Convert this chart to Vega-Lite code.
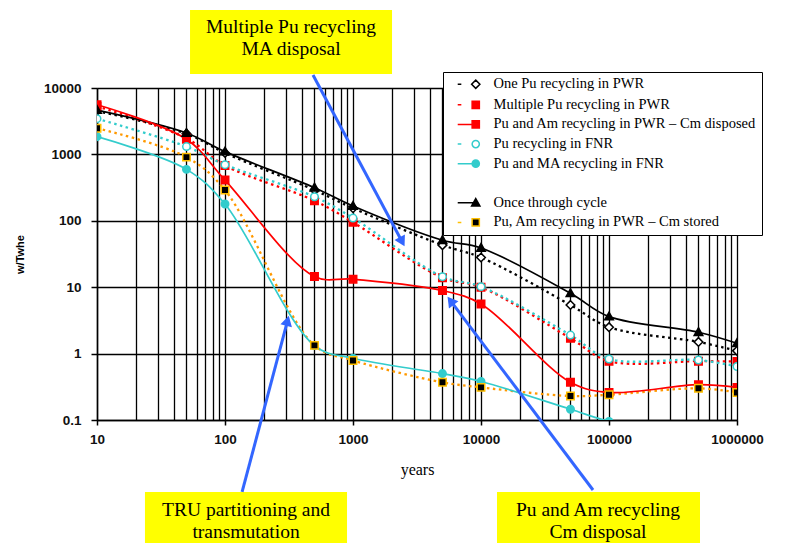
{
  "$schema": "https://vega.github.io/schema/vega-lite/v6.json",
  "width": 640,
  "height": 332,
  "autosize": {"type": "none"},
  "padding": {"left": 97, "top": 88, "right": 55, "bottom": 123},
  "background": "white",
  "config": {
    "view": {"stroke": null},
    "axis": {
      "domainColor": "#000",
      "domainWidth": 1.5,
      "tickColor": "#000",
      "tickWidth": 1.5,
      "gridColor": "#000",
      "gridWidth": 1.3,
      "gridOpacity": 1,
      "labelFont": "Liberation Sans",
      "labelFontWeight": "bold",
      "labelFontSize": 13.5,
      "labelColor": "#111",
      "labelFlush": false,
      "labelOverlap": false
    }
  },
  "datasets": {
    "series": [
      {"series": "Once through cycle", "years": 10, "w_twhe": 4650},
      {"series": "Once through cycle", "years": 50, "w_twhe": 2100},
      {"series": "Once through cycle", "years": 100, "w_twhe": 1100},
      {"series": "Once through cycle", "years": 500, "w_twhe": 315},
      {"series": "Once through cycle", "years": 1000, "w_twhe": 167},
      {"series": "Once through cycle", "years": 5000, "w_twhe": 51},
      {"series": "Once through cycle", "years": 10000, "w_twhe": 39},
      {"series": "Once through cycle", "years": 50000, "w_twhe": 8.1},
      {"series": "Once through cycle", "years": 100000, "w_twhe": 3.6},
      {"series": "Once through cycle", "years": 500000, "w_twhe": 2.1},
      {"series": "Once through cycle", "years": 1000000, "w_twhe": 1.43},
      {"series": "One Pu recycling in PWR", "years": 10, "w_twhe": 4500},
      {"series": "One Pu recycling in PWR", "years": 50, "w_twhe": 2050},
      {"series": "One Pu recycling in PWR", "years": 100, "w_twhe": 1050},
      {"series": "One Pu recycling in PWR", "years": 500, "w_twhe": 290},
      {"series": "One Pu recycling in PWR", "years": 1000, "w_twhe": 155},
      {"series": "One Pu recycling in PWR", "years": 5000, "w_twhe": 43},
      {"series": "One Pu recycling in PWR", "years": 10000, "w_twhe": 28},
      {"series": "One Pu recycling in PWR", "years": 50000, "w_twhe": 5.4},
      {"series": "One Pu recycling in PWR", "years": 100000, "w_twhe": 2.5},
      {"series": "One Pu recycling in PWR", "years": 500000, "w_twhe": 1.5},
      {"series": "One Pu recycling in PWR", "years": 1000000, "w_twhe": 1.1},
      {"series": "Multiple Pu recycling in PWR", "years": 10, "w_twhe": 5300},
      {"series": "Multiple Pu recycling in PWR", "years": 50, "w_twhe": 1750},
      {"series": "Multiple Pu recycling in PWR", "years": 100, "w_twhe": 680},
      {"series": "Multiple Pu recycling in PWR", "years": 500, "w_twhe": 201},
      {"series": "Multiple Pu recycling in PWR", "years": 1000, "w_twhe": 95},
      {"series": "Multiple Pu recycling in PWR", "years": 5000, "w_twhe": 13.9},
      {"series": "Multiple Pu recycling in PWR", "years": 10000, "w_twhe": 10},
      {"series": "Multiple Pu recycling in PWR", "years": 50000, "w_twhe": 1.7},
      {"series": "Multiple Pu recycling in PWR", "years": 100000, "w_twhe": 0.77},
      {"series": "Multiple Pu recycling in PWR", "years": 500000, "w_twhe": 0.77},
      {"series": "Multiple Pu recycling in PWR", "years": 1000000, "w_twhe": 0.76},
      {"series": "Pu and Am recycling in PWR – Cm disposed", "years": 10, "w_twhe": 5600},
      {"series": "Pu and Am recycling in PWR – Cm disposed", "years": 50, "w_twhe": 1690},
      {"series": "Pu and Am recycling in PWR – Cm disposed", "years": 100, "w_twhe": 410},
      {"series": "Pu and Am recycling in PWR – Cm disposed", "years": 500, "w_twhe": 14.5},
      {"series": "Pu and Am recycling in PWR – Cm disposed", "years": 1000, "w_twhe": 13.2},
      {"series": "Pu and Am recycling in PWR – Cm disposed", "years": 5000, "w_twhe": 8.9},
      {"series": "Pu and Am recycling in PWR – Cm disposed", "years": 10000, "w_twhe": 5.6},
      {"series": "Pu and Am recycling in PWR – Cm disposed", "years": 50000, "w_twhe": 0.37},
      {"series": "Pu and Am recycling in PWR – Cm disposed", "years": 100000, "w_twhe": 0.26},
      {"series": "Pu and Am recycling in PWR – Cm disposed", "years": 500000, "w_twhe": 0.34},
      {"series": "Pu and Am recycling in PWR – Cm disposed", "years": 1000000, "w_twhe": 0.31},
      {"series": "Pu recycling in FNR", "years": 10, "w_twhe": 3450},
      {"series": "Pu recycling in FNR", "years": 50, "w_twhe": 1310},
      {"series": "Pu recycling in FNR", "years": 100, "w_twhe": 700},
      {"series": "Pu recycling in FNR", "years": 500, "w_twhe": 230},
      {"series": "Pu recycling in FNR", "years": 1000, "w_twhe": 110},
      {"series": "Pu recycling in FNR", "years": 5000, "w_twhe": 14.4},
      {"series": "Pu recycling in FNR", "years": 10000, "w_twhe": 10.2},
      {"series": "Pu recycling in FNR", "years": 50000, "w_twhe": 1.9},
      {"series": "Pu recycling in FNR", "years": 100000, "w_twhe": 0.83},
      {"series": "Pu recycling in FNR", "years": 500000, "w_twhe": 0.8},
      {"series": "Pu recycling in FNR", "years": 1000000, "w_twhe": 0.64},
      {"series": "Pu and MA recycling in FNR", "years": 10, "w_twhe": 1850},
      {"series": "Pu and MA recycling in FNR", "years": 50, "w_twhe": 595},
      {"series": "Pu and MA recycling in FNR", "years": 100, "w_twhe": 179},
      {"series": "Pu and MA recycling in FNR", "years": 500, "w_twhe": 1.32},
      {"series": "Pu and MA recycling in FNR", "years": 1000, "w_twhe": 0.85},
      {"series": "Pu and MA recycling in FNR", "years": 5000, "w_twhe": 0.5},
      {"series": "Pu and MA recycling in FNR", "years": 10000, "w_twhe": 0.38},
      {"series": "Pu and MA recycling in FNR", "years": 50000, "w_twhe": 0.145},
      {"series": "Pu and MA recycling in FNR", "years": 100000, "w_twhe": 0.095},
      {"series": "Pu and MA recycling in FNR", "years": 500000, "w_twhe": 0.05},
      {"series": "Pu and MA recycling in FNR", "years": 1000000, "w_twhe": 0.04},
      {"series": "Pu, Am recycling in PWR – Cm stored", "years": 10, "w_twhe": 2480},
      {"series": "Pu, Am recycling in PWR – Cm stored", "years": 50, "w_twhe": 910},
      {"series": "Pu, Am recycling in PWR – Cm stored", "years": 100, "w_twhe": 290},
      {"series": "Pu, Am recycling in PWR – Cm stored", "years": 500, "w_twhe": 1.33},
      {"series": "Pu, Am recycling in PWR – Cm stored", "years": 1000, "w_twhe": 0.79},
      {"series": "Pu, Am recycling in PWR – Cm stored", "years": 5000, "w_twhe": 0.37},
      {"series": "Pu, Am recycling in PWR – Cm stored", "years": 10000, "w_twhe": 0.31},
      {"series": "Pu, Am recycling in PWR – Cm stored", "years": 50000, "w_twhe": 0.23},
      {"series": "Pu, Am recycling in PWR – Cm stored", "years": 100000, "w_twhe": 0.24},
      {"series": "Pu, Am recycling in PWR – Cm stored", "years": 500000, "w_twhe": 0.3},
      {"series": "Pu, Am recycling in PWR – Cm stored", "years": 1000000, "w_twhe": 0.26}
    ],
    "boxes": [
      {"box": "b1", "years": 53.3, "years_end": 2018, "w_twhe": 16250, "w_twhe_end": 149600},
      {"box": "b2", "years": 23.7, "years_end": 898, "w_twhe": 0.0011, "w_twhe_end": 0.00824},
      {"box": "b3", "years": 13335, "years_end": 514000, "w_twhe": 0.0011, "w_twhe_end": 0.00824}
    ],
    "notes": [
      {"text": "Multiple Pu recycling", "years": 328, "w_twhe": 83000},
      {"text": "MA disposal", "years": 328, "w_twhe": 38600},
      {"text": "TRU partitioning and", "years": 146, "w_twhe": 0.00441},
      {"text": "transmutation", "years": 146, "w_twhe": 0.00206},
      {"text": "Pu and Am recycling", "years": 82000, "w_twhe": 0.00441},
      {"text": "Cm disposal", "years": 82000, "w_twhe": 0.00206}
    ],
    "arrows": [
      {"id": "a1", "years": 487, "w_twhe": 15700, "years_end": 2420, "w_twhe_end": 48.4},
      {"id": "a2", "years": 136, "w_twhe": 0.00824, "years_end": 307.8, "w_twhe_end": 3.12},
      {"id": "a3", "years": 75000, "w_twhe": 0.00883, "years_end": 5790, "w_twhe_end": 6.24}
    ],
    "heads": [
      {"id": "a1", "years": 2420, "w_twhe": 48.4},
      {"id": "a2", "years": 307.8, "w_twhe": 3.12},
      {"id": "a3", "years": 5790, "w_twhe": 6.24}
    ]
  },
  "encoding": {
    "x": {"field": "years", "type": "quantitative", "scale": {"type": "log", "domain": [10, 1000000], "nice": false},
      "axis": {
        "title": "years",
        "values": [10,20,30,40,50,60,70,80,90,100,200,300,400,500,600,700,800,900,1000,2000,3000,4000,5000,6000,7000,8000,9000,10000,20000,30000,40000,50000,60000,70000,80000,90000,100000,200000,300000,400000,500000,600000,700000,800000,900000,1000000],
        "format": "d",
        "labelExpr": "abs(log(datum.value)/LN10 - round(log(datum.value)/LN10)) < 0.001 ? datum.label : ''",
        "tickOpacity": {"condition": {"test": "abs(log(datum.value)/LN10 - round(log(datum.value)/LN10)) < 0.001", "value": 1}, "value": 0},
        "grid": true,
        "tickSize": 5,
        "labelPadding": 7,
        "titleFont": "Liberation Serif",
        "titleFontSize": 16,
        "titleFontWeight": "normal",
        "titleColor": "#000",
        "titlePadding": 16
      }
    },
    "y": {"field": "w_twhe", "type": "quantitative", "scale": {"type": "log", "domain": [0.1, 10000], "nice": false},
      "axis": {
        "title": "w/Twhe",
        "values": [0.1, 1, 10, 100, 1000, 10000],
        "format": "~g",
        "grid": true,
        "tickSize": 6,
        "labelPadding": 10,
        "titleFont": "Liberation Sans",
        "titleFontSize": 11,
        "titleFontWeight": "bold",
        "titleColor": "#000",
        "titlePadding": 18
      }
    }
  },
  "layer": [
    {
      "data": {"name": "series"},
      "transform": [{"filter": {"field": "series", "oneOf": ["One Pu recycling in PWR", "Multiple Pu recycling in PWR", "Pu recycling in FNR", "Pu, Am recycling in PWR – Cm stored"]}}],
      "mark": {"type": "line", "interpolate": "catmull-rom", "strokeWidth": 2.3, "strokeDash": [2.5, 3.5], "clip": true},
      "encoding": {
        "color": {"field": "series", "type": "nominal", "legend": null,
          "scale": {"domain": ["One Pu recycling in PWR", "Multiple Pu recycling in PWR", "Pu and Am recycling in PWR – Cm disposed", "Pu recycling in FNR", "Pu and MA recycling in FNR", "Once through cycle", "Pu, Am recycling in PWR – Cm stored"],
            "range": ["#000000", "#FF0000", "#FF0000", "#33CCCC", "#33CCCC", "#000000", "#FF9900"]}},
        "detail": {"field": "series"}
      }
    },
    {
      "data": {"name": "series"},
      "transform": [{"filter": {"field": "series", "oneOf": ["Pu and Am recycling in PWR – Cm disposed", "Pu and MA recycling in FNR", "Once through cycle"]}}],
      "mark": {"type": "line", "interpolate": "catmull-rom", "strokeWidth": 1.7, "clip": true},
      "encoding": {
        "color": {"field": "series", "type": "nominal", "legend": null,
          "scale": {"domain": ["One Pu recycling in PWR", "Multiple Pu recycling in PWR", "Pu and Am recycling in PWR – Cm disposed", "Pu recycling in FNR", "Pu and MA recycling in FNR", "Once through cycle", "Pu, Am recycling in PWR – Cm stored"],
            "range": ["#000000", "#FF0000", "#FF0000", "#33CCCC", "#33CCCC", "#000000", "#FF9900"]}},
        "detail": {"field": "series"}
      }
    },
    {
      "data": {"name": "series"},
      "transform": [{"filter": {"field": "series", "equal": "One Pu recycling in PWR"}}],
      "mark": {"type": "point", "shape": "M0,-1.15L1.15,0L0,1.15L-1.15,0Z", "size": 56, "strokeWidth": 1.5, "opacity": 1, "fill": "#FFFFFF", "stroke": "#000000", "filled": true, "clip": true},
      "encoding": {}
    },
    {
      "data": {"name": "series"},
      "transform": [{"filter": {"field": "series", "oneOf": ["Multiple Pu recycling in PWR", "Pu and Am recycling in PWR – Cm disposed"]}}],
      "mark": {"type": "point", "shape": "M-1,-1L1,-1L1,1L-1,1Z", "size": 56, "strokeWidth": 1.5, "opacity": 1, "fill": "#FF0000", "stroke": "#FF0000", "filled": true, "clip": true},
      "encoding": {}
    },
    {
      "data": {"name": "series"},
      "transform": [{"filter": {"field": "series", "equal": "Pu recycling in FNR"}}],
      "mark": {"type": "point", "shape": "M1,0A1,1,0,1,1,-1,0A1,1,0,1,1,1,0Z", "size": 56, "strokeWidth": 1.5, "opacity": 1, "fill": "#FFFFFF", "stroke": "#33CCCC", "filled": true, "clip": true},
      "encoding": {}
    },
    {
      "data": {"name": "series"},
      "transform": [{"filter": {"field": "series", "equal": "Pu and MA recycling in FNR"}}],
      "mark": {"type": "point", "shape": "M1,0A1,1,0,1,1,-1,0A1,1,0,1,1,1,0Z", "size": 56, "strokeWidth": 1.5, "opacity": 1, "fill": "#33CCCC", "stroke": "#33CCCC", "filled": true, "clip": true},
      "encoding": {}
    },
    {
      "data": {"name": "series"},
      "transform": [{"filter": {"field": "series", "equal": "Once through cycle"}}],
      "mark": {"type": "point", "shape": "M0,-1.2L1.15,0.85L-1.15,0.85Z", "size": 56, "strokeWidth": 1.5, "opacity": 1, "fill": "#000000", "stroke": "#000000", "filled": true, "clip": true},
      "encoding": {}
    },
    {
      "data": {"name": "series"},
      "transform": [{"filter": {"field": "series", "equal": "Pu, Am recycling in PWR – Cm stored"}}],
      "mark": {"type": "point", "shape": "M-1,-1L1,-1L1,1L-1,1Z", "size": 56, "strokeWidth": 1.5, "opacity": 1, "fill": "#000000", "stroke": "#FFC000", "filled": true, "clip": true},
      "encoding": {}
    },
    {
      "data": {"name": "series"},
      "mark": {"type": "point", "size": 52, "strokeWidth": 1.5, "opacity": 0, "clip": true},
      "encoding": {
        "shape": {"field": "series", "type": "nominal",
          "scale": {"domain": ["One Pu recycling in PWR", "Multiple Pu recycling in PWR", "Pu and Am recycling in PWR – Cm disposed", "Pu recycling in FNR", "Pu and MA recycling in FNR", "\u2003\u2003\u2003\u2003\u2003\u2003\u2003\u2003\u2003\u2003\u2003\u2003\u2003\u2003\u2003\u2003\u2003\u2003\u2003\u2003\u2003\u2003\u2003\u2003", "Once through cycle", "Pu, Am recycling in PWR – Cm stored"],
            "range": ["M-5,0L-4,0M0,-1.15L1.15,0L0,1.15L-1.15,0Z", "M-5,0L-4,0M-1,-1L1,-1L1,1L-1,1Z", "M-5,0L0,0M-1,-1L1,-1L1,1L-1,1Z", "M-5,0L-4,0M1,0A1,1,0,1,1,-1,0A1,1,0,1,1,1,0Z", "M-5,0L-1,0M1,0A1,1,0,1,1,-1,0A1,1,0,1,1,1,0Z", "M0,0", "M-5,0L0,0M0,-1.2L1.15,0.85L-1.15,0.85Z", "M-5,0L-4,0M-1,-1L1,-1L1,1L-1,1Z"]},
          "legend": {
            "title": null, "orient": "none", "legendX": 346, "legendY": -16, "padding": 5,
            "strokeColor": "#000", "fillColor": "#fff",
            "symbolOffset": 20.5, "labelOffset": 10.5, "symbolSize": 52, "symbolStrokeWidth": 1.5, "symbolOpacity": 1,
            "labelFont": "Liberation Serif", "labelFontSize": 14.5, "labelColor": "#000", "labelLimit": 600, "rowPadding": 4.6
          }
        },
        "fill": {"field": "series", "type": "nominal",
          "scale": {"domain": ["One Pu recycling in PWR", "Multiple Pu recycling in PWR", "Pu and Am recycling in PWR – Cm disposed", "Pu recycling in FNR", "Pu and MA recycling in FNR", "\u2003\u2003\u2003\u2003\u2003\u2003\u2003\u2003\u2003\u2003\u2003\u2003\u2003\u2003\u2003\u2003\u2003\u2003\u2003\u2003\u2003\u2003\u2003\u2003", "Once through cycle", "Pu, Am recycling in PWR – Cm stored"],
            "range": ["#FFFFFF", "#FF0000", "#FF0000", "#FFFFFF", "#33CCCC", "transparent", "#000000", "#000000"]},
          "legend": {
            "title": null, "orient": "none", "legendX": 346, "legendY": -16, "padding": 5,
            "strokeColor": "#000", "fillColor": "#fff",
            "symbolOffset": 20.5, "labelOffset": 10.5, "symbolSize": 52, "symbolStrokeWidth": 1.5, "symbolOpacity": 1,
            "labelFont": "Liberation Serif", "labelFontSize": 14.5, "labelColor": "#000", "labelLimit": 600, "rowPadding": 4.6
          }
        },
        "stroke": {"field": "series", "type": "nominal",
          "scale": {"domain": ["One Pu recycling in PWR", "Multiple Pu recycling in PWR", "Pu and Am recycling in PWR – Cm disposed", "Pu recycling in FNR", "Pu and MA recycling in FNR", "\u2003\u2003\u2003\u2003\u2003\u2003\u2003\u2003\u2003\u2003\u2003\u2003\u2003\u2003\u2003\u2003\u2003\u2003\u2003\u2003\u2003\u2003\u2003\u2003", "Once through cycle", "Pu, Am recycling in PWR – Cm stored"],
            "range": ["#000000", "#FF0000", "#FF0000", "#33CCCC", "#33CCCC", "transparent", "#000000", "#FFC000"]},
          "legend": {
            "title": null, "orient": "none", "legendX": 346, "legendY": -16, "padding": 5,
            "strokeColor": "#000", "fillColor": "#fff",
            "symbolOffset": 20.5, "labelOffset": 10.5, "symbolSize": 52, "symbolStrokeWidth": 1.5, "symbolOpacity": 1,
            "labelFont": "Liberation Serif", "labelFontSize": 14.5, "labelColor": "#000", "labelLimit": 600, "rowPadding": 4.6
          }
        }
      }
    },
    {
      "data": {"name": "boxes"},
      "mark": {"type": "rect", "color": "#FFFF00", "clip": false},
      "encoding": {
        "x2": {"field": "years_end"},
        "y2": {"field": "w_twhe_end"}
      }
    },
    {
      "data": {"name": "notes"},
      "mark": {"type": "text", "font": "Liberation Serif", "fontSize": 19.5, "color": "#000", "align": "center", "baseline": "middle", "clip": false},
      "encoding": {
        "text": {"field": "text"}
      }
    },
    {
      "data": {"name": "arrows"},
      "mark": {"type": "rule", "color": "#3366FF", "strokeWidth": 3, "clip": false},
      "encoding": {
        "x2": {"field": "years_end"},
        "y2": {"field": "w_twhe_end"}
      }
    },
    {
      "data": {"name": "heads"},
      "transform": [{"filter": "datum.id === 'a1'"}],
      "mark": {"type": "point", "shape": "triangle-up", "size": 140, "filled": true, "color": "#3366FF", "opacity": 1, "angle": 151.8, "clip": false},
      "encoding": {}
    },
    {
      "data": {"name": "heads"},
      "transform": [{"filter": "datum.id === 'a2'"}],
      "mark": {"type": "point", "shape": "triangle-up", "size": 140, "filled": true, "color": "#3366FF", "opacity": 1, "angle": 14.9, "clip": false},
      "encoding": {}
    },
    {
      "data": {"name": "heads"},
      "transform": [{"filter": "datum.id === 'a3'"}],
      "mark": {"type": "point", "shape": "triangle-up", "size": 140, "filled": true, "color": "#3366FF", "opacity": 1, "angle": -36.9, "clip": false},
      "encoding": {}
    }
  ]
}
